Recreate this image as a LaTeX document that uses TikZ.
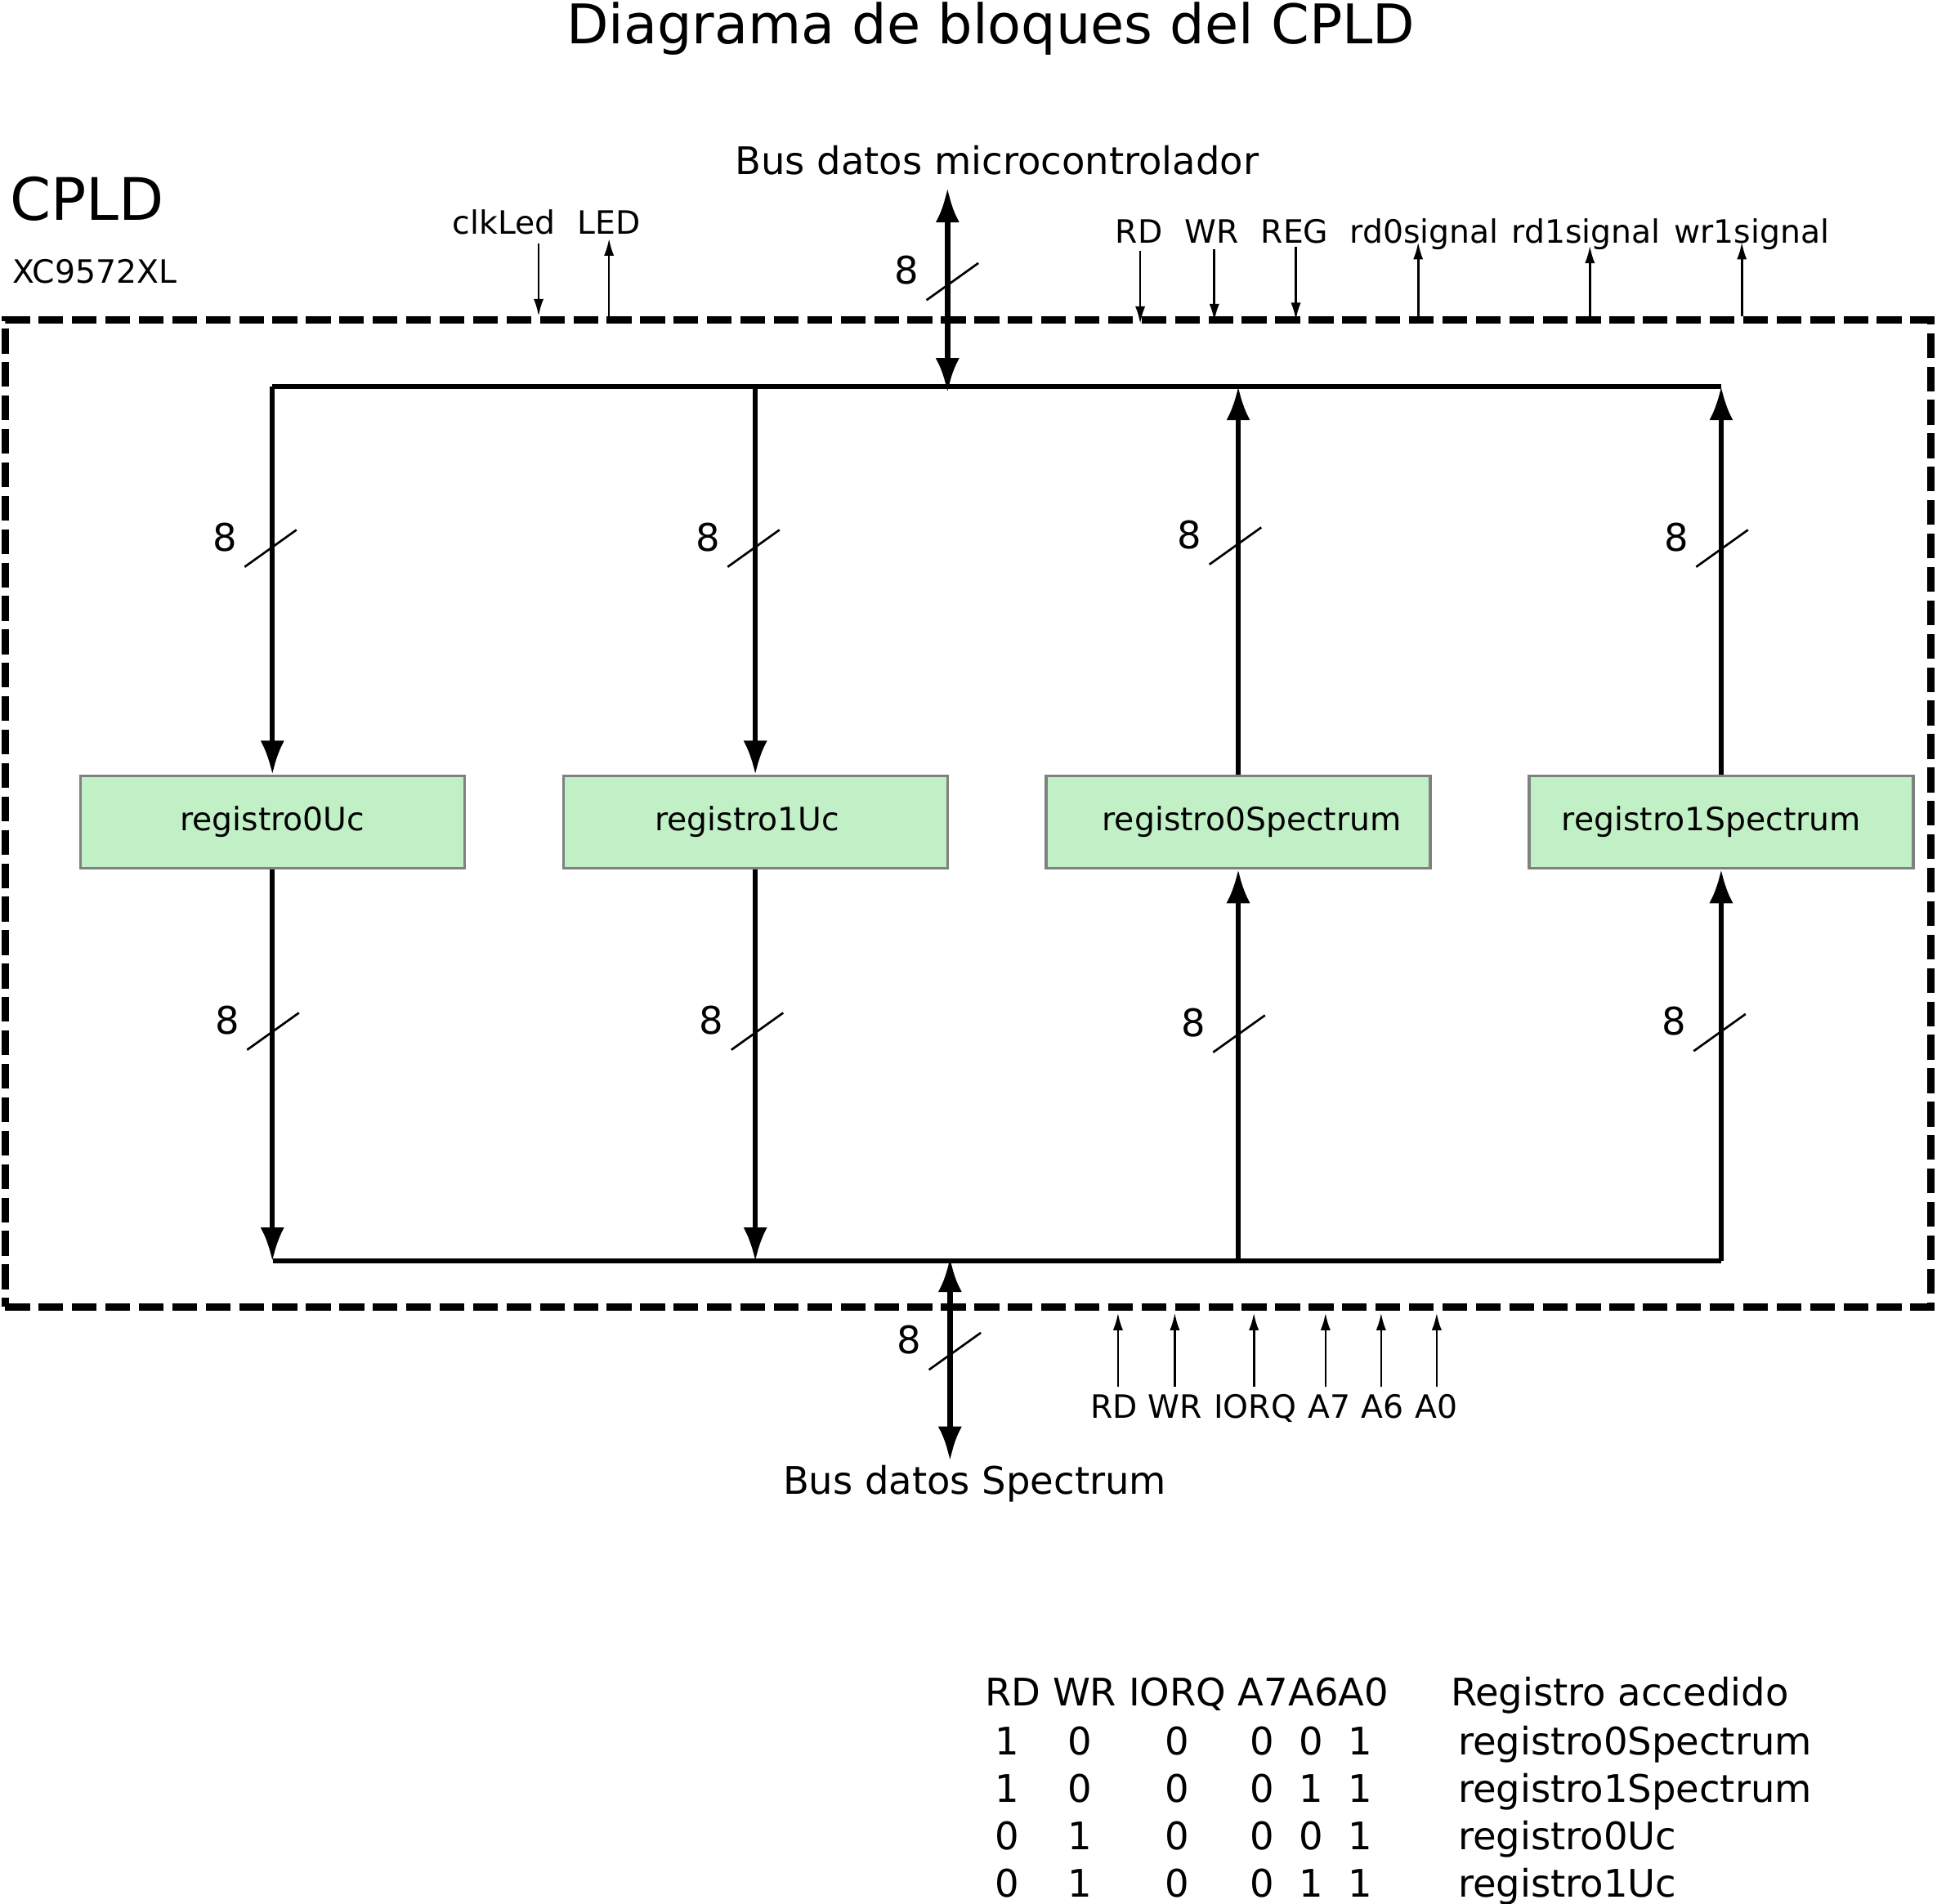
\documentclass[tikz,border=0pt]{standalone}
\usepackage{fontspec}
\setmainfont{DejaVu Sans}
\usetikzlibrary{arrows.meta,calc,shapes}
\definecolor{verdereg}{HTML}{C2F0C6}
\definecolor{bordereg}{HTML}{808080}
\newcommand{\fuentetitulo}{\fontsize{25.2}{30}\selectfont}
\newcommand{\fuentecpld}{\fontsize{27}{32}\selectfont}
\newcommand{\fuentebus}{\fontsize{17.5}{21}\selectfont}
\newcommand{\fuentesig}{\fontsize{14.8}{18}\selectfont}
\tikzset{
	node distance=7.82cm,
	>={Latex[length=15.5pt,width=11pt]},
	registro/.style={
		rectangle,
		draw=bordereg,
		fill=verdereg,
		line width=1.2pt,
		minimum width=6.22cm,
		minimum height=1.5cm,
		inner sep=0pt,
		font=\fuentesig
	},
	bus/.style={line width=2.2pt},
	busdoble/.style={line width=2.8pt, {Latex[length=16pt,width=11pt]}-{Latex[length=16pt,width=11pt]}},
	senal/.style={line width=1pt, -{Latex[length=8pt,width=4.6pt]}},
	raya/.style={line width=1pt},
	etiqueta/.style={inner sep=0pt, font=\fuentesig},
	etbus/.style={inner sep=0pt, font=\fuentebus},
	marco/.style={
		draw,
		line width=3.4pt,
		dash pattern=on 11.4pt off 4pt,
		minimum width=31.18cm,
		minimum height=15.98cm
	}
}

\begin{document}
\begin{tikzpicture}[x=0.02cm, y=-0.02cm]
	\useasboundingbox (0,0) rectangle (1568,1541.5);

	\node[etbus, font=\fuentetitulo, anchor=base] (titulo) at (802,35.5) {Diagrama de bloques del CPLD};
	\node[marco] (cpld) at (783.5,658.5) {};
	\node[etbus, font=\fuentecpld, anchor=base west] (cpldtxt) at (8,178) {CPLD};
	\node[etiqueta, anchor=base west] (chip) at (10,229.5) {XC9572XL};

	% registros
	\node[registro] (reg0uc) at (220.5,665.5) {registro0Uc};
	\node[registro, right of=reg0uc] (reg1uc) {\hspace*{-0.26cm}registro1Uc};
	\node[registro, right of=reg1uc] (reg0sp) {\hspace*{0.44cm}registro0Spectrum};
	\node[registro, right of=reg0sp] (reg1sp) {\hspace*{-0.32cm}registro1Spectrum};

	% buses internos
	\coordinate (arribaL) at (220,313);
	\coordinate (arribaR) at (1393,313);
	\coordinate (abajoL) at (221,1021);
	\coordinate (abajoR) at (1393,1021);
	\draw[bus] (arribaL) -- (arribaR);
	\draw[bus] (abajoL) -- (abajoR);

	\draw[bus, ->] (reg0uc.north |- arribaL) -- (reg0uc.north);
	\draw[bus, ->] (reg1uc.north |- arribaL) -- (reg1uc.north);
	\draw[bus, ->] (reg0sp.north) -- (reg0sp.north |- arribaL);
	\draw[bus, ->] (reg1sp.north) -- (reg1sp.north |- arribaL);

	\draw[bus, ->] (reg0uc.south) -- (reg0uc.south |- abajoL);
	\draw[bus, ->] (reg1uc.south) -- (reg1uc.south |- abajoL);
	\draw[bus, ->] (reg0sp.south |- abajoL) -- (reg0sp.south);
	\draw[bus, ->] (reg1sp.south |- abajoL) -- (reg1sp.south);

	% buses externos
	\node[etbus, anchor=base] (busuc) at (807,141) {Bus datos microcontrolador};
	\coordinate (ucarriba) at (767,152);
	\coordinate (ucabajo) at (767,318);
	\draw[busdoble] (ucarriba) -- (ucabajo);

	\node[etbus, anchor=base] (busspec) at (789,1210) {Bus datos Spectrum};
	\coordinate (specarriba) at (769,1018);
	\coordinate (specabajo) at (769,1183);
	\draw[busdoble] (specarriba) -- (specabajo);

	% anchos de bus
	\foreach \cx/\cy [count=\i] in {219/444, 610/444, 1000/442, 1394/444, 221/835, 613/835, 1003/837, 1392/836, 771/228, 773/1094} {
		\draw[raya] (\cx-21,\cy+15) -- (\cx+21,\cy-15);
		\node[etbus] (ancho\i) at (\cx-37,\cy-9) {8};
	}

	% senales del microcontrolador
	\node[etiqueta, anchor=base] (clkled) at (408,189.5) {clkLed};
	\node[etiqueta, anchor=base] (led) at (493,189.5) {LED};
	\node[etiqueta, anchor=base] (rd) at (922,197) {RD};
	\node[etiqueta, anchor=base] (wr) at (981,197) {WR};
	\node[etiqueta, anchor=base] (reg) at (1048,197) {REG};
	\node[etiqueta, anchor=base] (rdcero) at (1153,197) {rd0signal};
	\node[etiqueta, anchor=base] (rduno) at (1284,197) {rd1signal};
	\node[etiqueta, anchor=base] (wruno) at (1418,197) {wr1signal};

	\coordinate (pclk) at (436,197);
	\coordinate (pled) at (493,193);
	\coordinate (prd) at (923,203);
	\coordinate (pwr) at (983,202);
	\coordinate (preg) at (1049,200);
	\coordinate (prdcero) at (1148,196);
	\coordinate (prduno) at (1287,199);
	\coordinate (pwruno) at (1410,196);

	\draw[senal] (pclk) -- (pclk |- cpld.north);
	\draw[senal] (pled |- cpld.north) -- (pled);
	\draw[senal] (prd) -- ($(prd |- cpld.north)+(0,6)$);
	\draw[senal] (pwr) -- ($(pwr |- cpld.north)+(0,4)$);
	\draw[senal] (preg) -- ($(preg |- cpld.north)+(0,3)$);
	\draw[senal] (prdcero |- cpld.north) -- (prdcero);
	\draw[senal] (prduno |- cpld.north) -- (prduno);
	\draw[senal] (pwruno |- cpld.north) -- (pwruno);

	% senales del Spectrum
	\node[etiqueta, anchor=base] (srd) at (902,1148.5) {RD};
	\node[etiqueta, anchor=base] (swr) at (951,1148.5) {WR};
	\node[etiqueta, anchor=base] (siorq) at (1016,1148.5) {IORQ};
	\node[etiqueta, anchor=base] (sasiete) at (1076,1148.5) {A7};
	\node[etiqueta, anchor=base] (saseis) at (1119,1148.5) {A6};
	\node[etiqueta, anchor=base] (sacero) at (1163,1148.5) {A0};

	\foreach \sx in {905, 951, 1015, 1073, 1118, 1163} {
		\coordinate (ps) at (\sx,1123);
		\draw[senal] (ps) -- ($(ps |- cpld.south)+(0,2)$);
	}

	% tabla de acceso
	\node[etbus, anchor=base west] (cab) at (797,1381) {RD WR IORQ A7A6A0};
	\node[etbus, anchor=base west] (cabreg) at (1174,1381) {Registro accedido};
	\foreach \a/\b/\c/\d/\e/\f/\nombre [count=\i] in {1/0/0/0/0/1/registro0Spectrum, 1/0/0/0/1/1/registro1Spectrum, 0/1/0/0/0/1/registro0Uc, 0/1/0/0/1/1/registro1Uc} {
		\node[etbus, anchor=base] (f\i-rd) at (815,1382.5+38.4*\i) {\a};
		\node[etbus, anchor=base] (f\i-wr) at (874,1382.5+38.4*\i) {\b};
		\node[etbus, anchor=base] (f\i-iorq) at (953,1382.5+38.4*\i) {\c};
		\node[etbus, anchor=base] (f\i-asiete) at (1022,1382.5+38.4*\i) {\d};
		\node[etbus, anchor=base] (f\i-aseis) at (1061.5,1382.5+38.4*\i) {\e};
		\node[etbus, anchor=base] (f\i-acero) at (1101,1382.5+38.4*\i) {\f};
		\node[etbus, anchor=base west] (f\i-reg) at (1180,1382.5+38.4*\i) {\nombre};
	}
\end{tikzpicture}
\end{document}
